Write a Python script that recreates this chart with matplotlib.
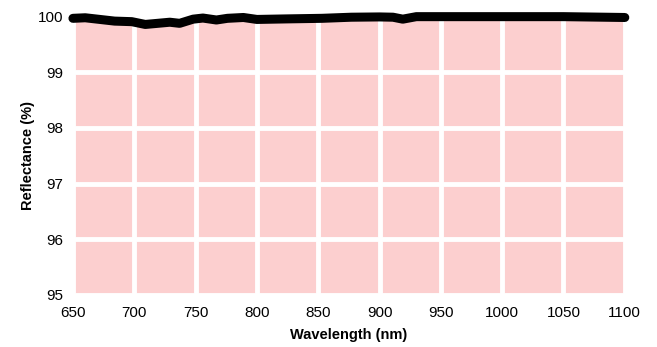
import matplotlib
matplotlib.use("Agg")
import matplotlib.pyplot as plt

wavelength = [650, 660, 670, 684, 698, 709, 719, 729, 737, 748, 756, 767, 776,
              789, 800, 825, 853, 877, 900, 911, 919, 930, 957, 1000, 1050, 1100]
reflectance = [99.97, 99.98, 99.955, 99.92, 99.91, 99.86, 99.88, 99.9, 99.88,
               99.955, 99.975, 99.94, 99.97, 99.985, 99.95, 99.96, 99.97, 99.99,
               99.995, 99.99, 99.955, 100.0, 100.0, 100.0, 100.0, 99.985]

x_ticks = [650, 700, 750, 800, 850, 900, 950, 1000, 1050, 1100]
y_ticks = [95, 96, 97, 98, 99, 100]

plt.rcParams['font.family'] = ['Liberation Sans', 'DejaVu Sans']

fig = plt.figure(figsize=(6.57, 3.47), dpi=100)
ax = fig.add_axes([0.111, 0.150, 0.840, 0.802])
ax.set_facecolor('#fccfcf')

ax.plot(wavelength, reflectance, color='black', lw=6.5,
        solid_capstyle='round', solid_joinstyle='round', clip_on=False, zorder=3)

ax.set_xlim(650, 1100)
ax.set_ylim(95, 100)
ax.set_xticks(x_ticks)
ax.set_yticks(y_ticks)
ax.grid(True, color='white', lw=3.5)
ax.set_axisbelow(True)
for s in ax.spines.values():
    s.set_visible(False)
ax.tick_params(axis='x', length=0, labelsize=11, pad=8)
ax.tick_params(axis='y', length=0, labelsize=11, pad=7)

ax.set_xlabel("Wavelength (nm)", fontsize=10.5, fontweight='bold', labelpad=6)
ax.set_ylabel("Reflectance (%)", fontsize=10.5, fontweight='bold', labelpad=2)

fig.savefig("out.png", dpi=100)
